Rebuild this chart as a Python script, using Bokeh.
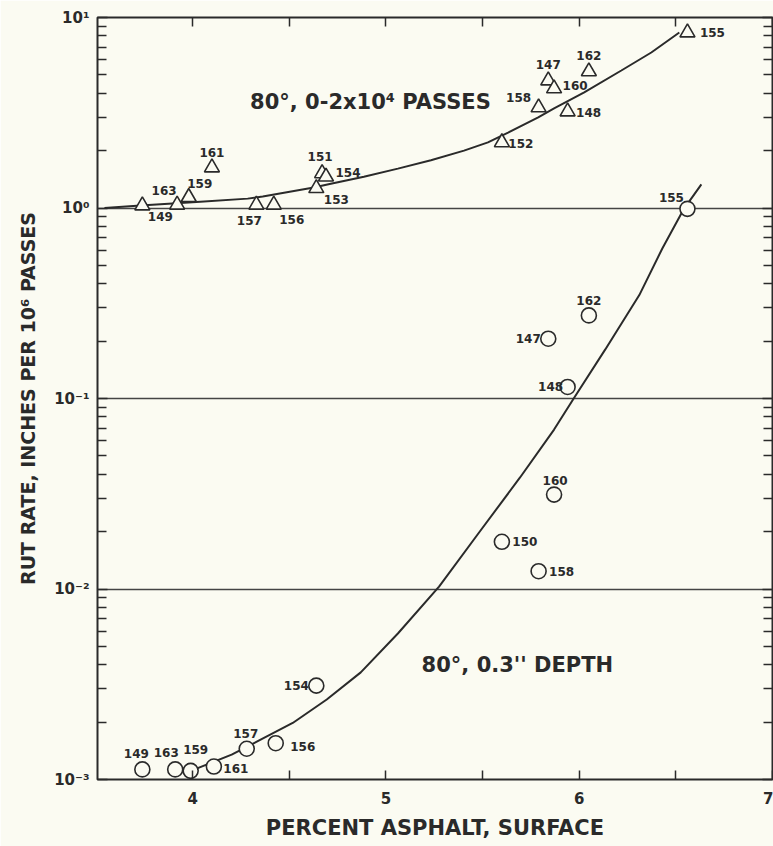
from bokeh.plotting import figure
from bokeh.models import (ColumnDataSource, FixedTicker, LogAxis, LinearAxis, Label)
from bokeh.core.properties import value
from bokeh.embed import file_html
from bokeh.resources import INLINE

# ---- data ----
tri_ids = ["149", "163", "159", "161", "157", "156", "153", "151", "154",
           "152", "158", "147", "160", "148", "162", "155"]
tri_x = [3.74, 3.92, 3.98, 4.10, 4.33, 4.42, 4.64, 4.67, 4.69,
         5.60, 5.79, 5.84, 5.87, 5.94, 6.05, 6.56]
tri_y = [1.03, 1.04, 1.14, 1.63, 1.04, 1.04, 1.27, 1.52, 1.46,
         2.21, 3.37, 4.67, 4.24, 3.21, 5.21, 8.34]

cir_ids = ["149", "163", "159", "161", "157", "156", "154",
           "150", "158", "160", "148", "147", "162", "155"]
cir_x = [3.74, 3.91, 3.99, 4.11, 4.28, 4.43, 4.64,
         5.60, 5.79, 5.87, 5.94, 5.84, 6.05, 6.56]
cir_y = [0.00113, 0.00113, 0.00111, 0.00117, 0.00145, 0.00155, 0.00311,
         0.0177, 0.0124, 0.0313, 0.115, 0.206, 0.273, 0.99]

# fitted curves
upper_curve_x = [3.544, 3.73, 3.917, 4.04, 4.285, 4.363, 4.627, 4.715, 4.886, 5.062,
                 5.233, 5.404, 5.528, 5.632, 5.788, 5.870, 6.026, 6.218, 6.373, 6.518]
upper_curve_y = [1.00, 1.03, 1.06, 1.08, 1.12, 1.15, 1.28, 1.34, 1.46, 1.61,
                 1.78, 2.00, 2.21, 2.49, 2.99, 3.33, 4.04, 5.27, 6.55, 8.34]

lower_curve_x = [4.02, 4.202, 4.342, 4.518, 4.694, 4.870, 5.062, 5.275, 5.482,
                 5.694, 5.870, 5.974, 6.135, 6.311, 6.430, 6.539, 6.632]
lower_curve_y = [0.00114, 0.00135, 0.00160, 0.00198, 0.00263, 0.00365, 0.00584,
                 0.0103, 0.0198, 0.0385, 0.0687, 0.101, 0.181, 0.349, 0.613, 0.98, 1.33]

x_ticks = [4, 5, 6, 7]
x_minor = [4.5, 5.5, 6.5]
y_ticks = [1e-3, 1e-2, 1e-1, 1e0, 1e1]
y_tick_labels = ["10\u207b\u00b3", "10\u207b\u00b2", "10\u207b\u00b9", "10\u2070", "10\u00b9"]
y_grid = [1e-2, 1e-1, 1e0]

# label offsets (pixels, +x right, +y down)
tri_dx = [18, -13, 11, 0, -7, 18, 20, -2, 22, 19, -20, 0, 21, 21, 0, 25]
tri_dy = [11, -14, -14, -15, 16, 15, 11, -17, -4, 1, -10, -16, -3, 1, -16, 0]
cir_dx = [-6, -9, 5, 22, -1, 27, -20, 23, 23, 1, -17, -20, 0, -16]
cir_dy = [-16, -17, -21, 2, -15, 3, 0, 0, 0, -14, 0, 0, -15, -11]

BG = "#fbfbf2"
INK = "#2a2a2a"
FONT = "DejaVu Sans"

p = figure(width=773, height=846, x_range=(3.508, 7.0), y_range=(1e-3, 1e1),
           y_axis_type="log", output_backend="svg", toolbar_location=None,
           min_border_left=97, min_border_right=1, min_border_top=17,
           min_border_bottom=67)
p.background_fill_color = BG
p.border_fill_color = BG
p.outline_line_color = INK
p.outline_line_width = 2

# grid
p.xgrid.visible = False
p.ygrid.ticker = FixedTicker(ticks=y_grid)
p.ygrid.grid_line_color = "#444444"
p.ygrid.grid_line_width = 1.6
p.ygrid.minor_grid_line_color = None

y_minor = [k * d for d in [1e-3, 1e-2, 1e-1, 1e0] for k in range(2, 10)]

def style_y(ax, labels=True):
    ax.ticker = FixedTicker(ticks=y_ticks, minor_ticks=y_minor)
    if labels:
        ax.major_label_overrides = {t: l for t, l in zip(y_ticks, y_tick_labels)}
    else:
        ax.major_label_overrides = {t: "" for t in y_ticks}
    ax.major_tick_in = 10
    ax.major_tick_out = 0
    ax.minor_tick_in = 9
    ax.minor_tick_out = 0
    ax.major_tick_line_color = INK
    ax.minor_tick_line_color = INK
    ax.major_tick_line_width = 1.5
    ax.minor_tick_line_width = 1.5
    ax.axis_line_color = None
    ax.major_label_text_font = FONT
    ax.major_label_text_font_size = "15px"
    ax.major_label_text_font_style = "bold"
    ax.major_label_text_color = INK

def style_x(ax, labels=True):
    ax.ticker = FixedTicker(ticks=x_ticks, minor_ticks=x_minor)
    if not labels:
        ax.major_label_overrides = {t: "" for t in x_ticks}
    ax.major_tick_in = 9
    ax.major_tick_out = 0
    ax.minor_tick_in = 9
    ax.minor_tick_out = 0
    ax.major_tick_line_color = INK
    ax.minor_tick_line_color = INK
    ax.major_tick_line_width = 1.5
    ax.minor_tick_line_width = 1.5
    ax.axis_line_color = None
    ax.major_label_text_font = FONT
    ax.major_label_text_font_size = "15px"
    ax.major_label_text_font_style = "bold"
    ax.major_label_text_color = INK

style_y(p.yaxis[0])
p.yaxis[0].major_label_standoff = 8
p.yaxis[0].axis_label = "RUT RATE, INCHES PER 10\u2076 PASSES"
p.yaxis[0].axis_label_standoff = 12
p.yaxis[0].axis_label_text_font = FONT
p.yaxis[0].axis_label_text_font_size = "19px"
p.yaxis[0].axis_label_text_font_style = "bold"
p.yaxis[0].axis_label_text_color = INK

style_x(p.xaxis[0])
p.xaxis[0].major_label_standoff = 12
p.xaxis[0].axis_label = "PERCENT ASPHALT, SURFACE"
p.xaxis[0].axis_label_standoff = 9
p.xaxis[0].axis_label_text_font = FONT
p.xaxis[0].axis_label_text_font_size = "21px"
p.xaxis[0].axis_label_text_font_style = "bold"
p.xaxis[0].axis_label_text_color = INK

right = LogAxis()
style_y(right, labels=False)
right.major_label_standoff = 0
p.add_layout(right, "right")

top = LinearAxis()
style_x(top, labels=False)
top.major_label_standoff = 0
p.add_layout(top, "above")

# curves
p.line(upper_curve_x, upper_curve_y, line_color=INK, line_width=2)
p.line(lower_curve_x, lower_curve_y, line_color=INK, line_width=2)

tri_src = ColumnDataSource(dict(x=tri_x, y=tri_y, t=tri_ids, dx=tri_dx, dy=tri_dy))
cir_src = ColumnDataSource(dict(x=cir_x, y=cir_y, t=cir_ids, dx=cir_dx, dy=cir_dy))

p.scatter("x", "y", source=tri_src, marker="triangle", size=15,
          fill_color=BG, line_color=INK, line_width=1.6)
p.scatter("x", "y", source=cir_src, marker="circle", size=15,
          fill_color=BG, line_color=INK, line_width=1.6)

for src in (tri_src, cir_src):
    p.text("x", "y", text="t", source=src, x_offset="dx", y_offset="dy",
           text_font=value(FONT), text_font_size="12px", text_font_style="bold",
           text_color=INK, text_align="center", text_baseline="middle")

p.add_layout(Label(x=4.92, y=3.6, text="80\u00b0, 0-2x10\u2074 PASSES",
                   text_font=FONT, text_font_size="21px", text_font_style="bold",
                   text_color=INK, text_align="center", text_baseline="middle"))
p.add_layout(Label(x=5.68, y=0.0040, text="80\u00b0, 0.3'' DEPTH",
                   text_font=FONT, text_font_size="21px", text_font_style="bold",
                   text_color=INK, text_align="center", text_baseline="middle"))

open("out.html", "w").write(file_html(p, INLINE))
